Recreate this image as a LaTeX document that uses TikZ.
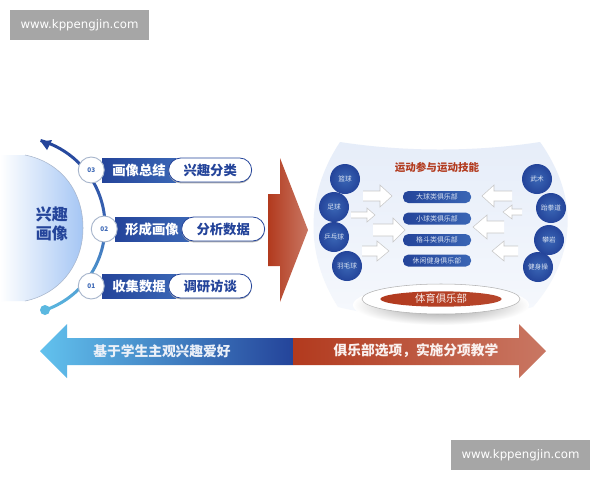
\documentclass[tikz,border=0pt]{standalone}
\usepackage{fontspec}
\setmainfont{Noto Sans CJK SC}
\newfontfamily\webfont{DejaVu Sans}
\usetikzlibrary{calc,positioning,shapes.geometric,shadows}
\definecolor{deepblue}{HTML}{24449A}
\definecolor{midblue}{HTML}{3A66B5}
\definecolor{skyblue}{HTML}{5BB8E0}
\definecolor{tipblue}{HTML}{62C2EE}
\definecolor{paleblue}{HTML}{A5C6F4}
\definecolor{brick}{HTML}{B23A1E}
\definecolor{salmon}{HTML}{C97763}
\definecolor{panelblue}{HTML}{E6EDF9}
\definecolor{ringgray}{HTML}{A8B6CC}
\newcommand{\fs}[1]{\fontsize{#1}{#1}\selectfont}
\newcommand{\whitearrow}[6]{% tail, tip, base, y, head half, shaft half
	\fill [white] (#1,#4-#6) -- (#3,#4-#6) -- (#3,#4-#5) -- (#2,#4) -- (#3,#4+#5) -- (#3,#4+#6) -- (#1,#4+#6) -- cycle;
	\draw [arrowline] (#1,#4-#6) -- (#3,#4-#6) -- (#3,#4-#5) -- (#2,#4) -- (#3,#4+#5) -- (#3,#4+#6) -- (#1,#4+#6);}
\begin{document}
\begin{tikzpicture}[x=.75pt,y=-.75pt,
		mark box/.style={fill=black!35, text=white, minimum width=104.25pt, minimum height=22.5pt, inner sep=0pt, font=\webfont\fs{8.8}},
		ribbon/.style={left color=deepblue, right color=midblue, minimum width=55.5pt, minimum height=18pt, inner sep=0pt, text=white, font=\bfseries\fs{10}},
		pill/.style={rectangle, rounded corners=9pt, draw=deepblue, line width=.6pt, fill=white, minimum width=62.25pt, minimum height=18pt, inner sep=0pt, text=deepblue, font=\bfseries\fs{10}, drop shadow={shadow xshift=0pt, shadow yshift=-1pt, fill=black!30, opacity=1}},
		badge/.style={circle, draw=ringgray, line width=.7pt, fill=white, minimum size=19.5pt, inner sep=0pt, text=midblue, font=\bfseries\fs{4.8}},
		ball/.style={circle, inner color=midblue, outer color=deepblue, minimum size=22.5pt, inner sep=0pt, text=white!80!midblue, font=\fs{5}},
		club/.style={rectangle, rounded corners=4pt, left color=deepblue, right color=midblue, minimum width=51pt, minimum height=9pt, inner sep=0pt, text=white!80!midblue, font=\fs{5.2}},
		arrowline/.style={draw=black!22, line width=.4pt}]
	\useasboundingbox (0,0) rectangle (600,480);
	\fill [white] (0,0) rectangle (600,480);

	\node (markleft) [mark box] at (79.5,25) {www.kppengjin.com};
	\node (markright) [mark box] at (520.5,455) {www.kppengjin.com};

	\shade [left color=white, right color=paleblue] (25,155) .. controls (60,162) and (83,190) .. (83,228) .. controls (83,264) and (60,294) .. (25,301) -- (0,301) -- (0,155) -- cycle;
	\draw [ringgray, line width=.4pt] (25,155) .. controls (60,162) and (83,190) .. (83,228) .. controls (83,264) and (60,294) .. (25,301);
	\node (interest) [text=deepblue, font=\bfseries\fs{12}, align=center, inner sep=0pt] at (52,224) {兴趣\\[2.5pt]画像};

	\coordinate (hub) at (16,226);
	\shade [top color=deepblue, bottom color=skyblue, middle color=midblue] ($(hub)+(-74:87.5)$) arc [start angle=-74, end angle=71, radius=87.5] -- ($(hub)+(71:90.5)$) arc [start angle=71, end angle=-74, radius=90.5] -- cycle;
	\fill [deepblue] (41,141.7) -- (52,140) -- (47,150) -- cycle;
	\node (dot) [circle, fill=skyblue, minimum size=7.5pt, inner sep=0pt] at (45,310) {};

	\node (rib03) [ribbon] at (139,170) {画像总结};
	\node (pill03) [pill, right=-6pt of rib03] {兴趣分类};
	\node (num03) [badge, left=-2.25pt of rib03] {03};
	\node (rib02) [ribbon] at (152,229) {形成画像};
	\node (pill02) [pill, right=-6pt of rib02] {分析数据};
	\node (num02) [badge, left=-2.25pt of rib02] {02};
	\node (rib01) [ribbon] at (139,286) {收集数据};
	\node (pill01) [pill, right=-6pt of rib01] {调研访谈};
	\node (num01) [badge, left=-2.25pt of rib01] {01};

	\shade [left color=brick, right color=salmon] (268,194) -- (280,194) -- (280,158) -- (308,230) -- (280,302) -- (280,266) -- (268,266) -- cycle;

	\shade [top color=panelblue, bottom color=panelblue!35] (340,142) .. controls (405,152) and (475,152) .. (540,142) .. controls (578,195) and (578,255) .. (533,307) .. controls (470,322) and (400,322) .. (338,307) .. controls (305,255) and (305,195) .. (340,142) -- cycle;
	\node (title) [text=brick, font=\bfseries\fs{7.9}, inner sep=0pt] at (437,167) {运动参与运动技能};

	\node (basket) [ball] at (345,179) {篮球};
	\node (soccer) [ball] at (334,207) {足球};
	\node (pingpong) [ball] at (334,237) {乒乓球};
	\node (badminton) [ball] at (347,266) {羽毛球};
	\node (wushu) [ball] at (537,179) {武术};
	\node (taekwondo) [ball] at (551,208) {跆拳道};
	\node (climbing) [ball] at (549,240) {攀岩};
	\node (aerobics) [ball] at (538,267) {健身操};

	\node (bigball) [club] at (437,197) {大球类俱乐部};
	\node (smallball) [club, below=6.75pt of bigball] {小球类俱乐部};
	\node (combat) [club, below=6.75pt of smallball] {格斗类俱乐部};
	\node (leisure) [club, below=6pt of combat] {休闲健身俱乐部};

	\whitearrow{363}{392}{380}{196}{11}{5}
	\whitearrow{351}{375}{367}{215}{7}{3}
	\whitearrow{373}{405}{393}{230}{12}{6}
	\whitearrow{362}{389}{377}{251}{10}{5}
	\whitearrow{512}{482}{494}{196}{11}{5}
	\whitearrow{522}{503}{512}{212}{7}{3}
	\whitearrow{504}{473}{487}{227}{12}{6}
	\whitearrow{518}{492}{504}{251}{10}{5}

	\node (plateshadow) [ellipse, inner color=black!45, outer color=white, minimum width=132pt, minimum height=30pt, inner sep=0pt] at (441,305) {};
	\node (plate) [ellipse, draw=black!30, fill=white, minimum width=118.5pt, minimum height=22.5pt, inner sep=0pt] at (441,299) {};
	\node (sportsclub) [ellipse, left color=brick, right color=brick!80!salmon, minimum width=91pt, minimum height=11.5pt, inner sep=0pt, text=white!85!salmon, font=\fs{7.8}] at (plate) {体育俱乐部};

	\shade [left color=tipblue, right color=deepblue] (293,338) -- (67,338) -- (67,324) -- (40,351) -- (67,378) -- (67,365) -- (293,365) -- cycle;
	\shade [left color=brick, right color=salmon] (293,338) -- (519,338) -- (519,324) -- (546,351) -- (519,378) -- (519,365) -- (293,365) -- cycle;
	\node (leftband) [text=white!90!midblue, font=\bfseries\fs{10.3}, inner sep=0pt] at (162,351) {基于学生主观兴趣爱好};
	\node (rightband) [text=white!90!salmon, font=\bfseries\fs{10.3}, inner sep=0pt] at (416,351) {俱乐部选项，实施分项教学};
\end{tikzpicture}
\end{document}
